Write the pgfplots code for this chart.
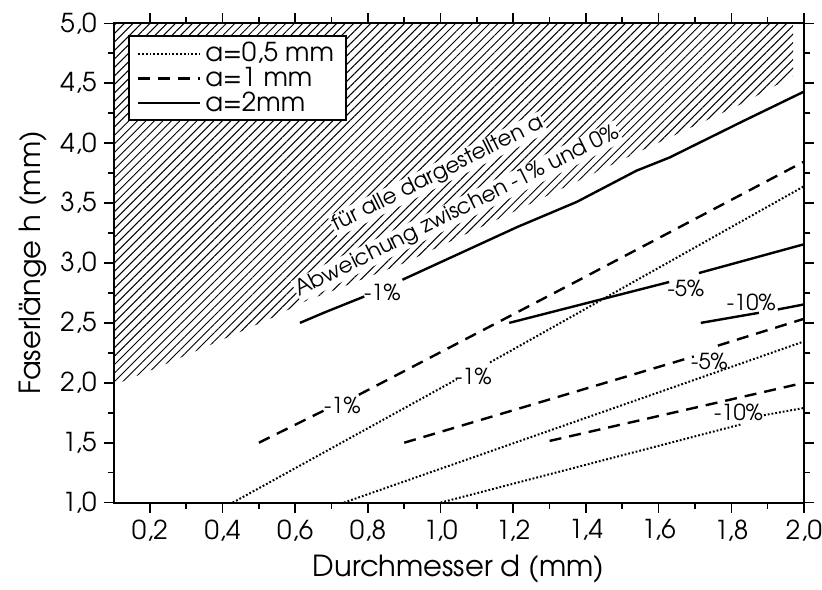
\documentclass[border=0pt]{standalone}
\usepackage{fontspec}
\setmainfont{texgyreadventor-regular.otf}
\usepackage{pgfplots}
\pgfplotsset{compat=1.18}
\usetikzlibrary{patterns.meta}

\begin{document}
\begin{tikzpicture}
\begin{axis}[
    scale only axis,
    width=345pt, height=239.5pt,
    xmin=0.1, xmax=2.0, ymin=1, ymax=5,
    xtick={0.2,0.4,0.6,0.8,1.0,1.2,1.4,1.6,1.8,2.0},
    ytick={1,1.5,2,2.5,3,3.5,4,4.5,5},
    minor x tick num=1, minor y tick num=1,
    tick align=outside,
    major tick length=5pt, minor tick length=3pt,
    every tick/.style={black, line width=0.8pt},
    axis line style={line width=1pt},
    /pgf/number format/.cd, use comma, fixed, fixed zerofill, precision=1, assume math mode=true,
    /pgfplots/.cd,
    ticklabel style={font=\fontsize{13}{15}\selectfont},
    xticklabel style={inner xsep=0pt},
    xlabel={Durchmesser d (mm)},
    ylabel={Faserlänge h (mm)},
    label style={font=\fontsize{14.5}{17}\selectfont},
    legend cell align=left,
    legend style={at={(0.021,0.975)}, anchor=north west, draw=black, line width=1pt,
        fill=white, font=\fontsize{13}{13}\selectfont, row sep=-2.8pt,
        inner xsep=4pt, inner ysep=1pt,
        /tikz/every even column/.append style={column sep=4pt}},
    legend image code/.code={\draw[#1] (0pt,0pt) -- (31pt,0pt);},
]
% schraffierter Bereich
\addplot[draw=none, forget plot, pattern={Lines[angle=45, distance=3pt, line width=0.5pt]}]
    coordinates {(0.1,1.98) (0.215,2.12) (0.387,2.344) (0.533,2.538) (0.624,2.676)
    (0.9,3.0) (1.21,3.44) (1.54,3.92) (1.83,4.33) (1.97,4.56) (1.97,5.0) (0.1,5.0)} -- cycle;

\node[rotate=26.5, fill=white, inner sep=0.6pt, font=\fontsize{10.8}{12}\selectfont]
    at (axis cs:0.993,3.74) {für alle dargestellten a};
\node[rotate=26.5, fill=white, inner sep=0.6pt, font=\fontsize{10.8}{12}\selectfont]
    at (axis cs:1.046,3.43) {Abweichung zwischen -1\% und 0\%};

% Legendeneintraege
\addplot[black, line width=1pt, dash pattern=on 0.9pt off 1pt] coordinates {(0.428,1.0) (1.045,2.03)};
\addlegendentry{a=0,5 mm}
\addplot[black, line width=1.2pt, dash pattern=on 6pt off 4pt] coordinates {(0.5,1.5) (0.69,1.785)};
\addlegendentry{a=1 mm}
\addplot[black, line width=1.2pt] coordinates {(0.613,2.5) (0.683,2.59) (0.79,2.72)};
\addlegendentry{a=2mm}

% a = 0,5 mm
\addplot[black, line width=1pt, dash pattern=on 0.9pt off 1pt, forget plot] coordinates {(1.136,2.17) (2.0,3.64)};
\addplot[black, line width=1pt, dash pattern=on 0.9pt off 1pt, forget plot] coordinates {(0.734,1.0) (2.0,2.345)};
\addplot[black, line width=1pt, dash pattern=on 0.9pt off 1pt, forget plot] coordinates {(1.0,1.0) (1.828,1.654)};
\addplot[black, line width=1pt, dash pattern=on 0.9pt off 1pt, forget plot] coordinates {(1.89,1.73) (2.0,1.79)};

% a = 1 mm
\addplot[black, line width=1.2pt, dash pattern=on 6pt off 4pt, forget plot] coordinates {(0.775,1.9) (1.37,2.84) (2.0,3.846)};
\addplot[black, line width=1.2pt, dash pattern=on 6pt off 4pt, forget plot] coordinates {(0.9,1.5) (1.697,2.22)};
\addplot[black, line width=1.2pt, dash pattern=on 6pt off 4pt, forget plot] coordinates {(1.763,2.31) (2.0,2.534)};
\addplot[black, line width=1.2pt, dash pattern=on 6pt off 4pt, forget plot] coordinates {(1.3,1.515) (2.0,2.0)};

% a = 2 mm
\addplot[black, line width=1.2pt, forget plot] coordinates {(0.895,2.86) (1.211,3.30) (1.375,3.51) (1.539,3.77) (1.63,3.88) (1.83,4.18) (2.0,4.43)};
\addplot[black, line width=1.2pt, forget plot] coordinates {(1.189,2.5) (1.629,2.841)};
\addplot[black, line width=1.2pt, forget plot] coordinates {(1.711,2.916) (2.0,3.156)};
\addplot[black, line width=1.2pt, forget plot] coordinates {(1.716,2.5) (1.876,2.584)};
\addplot[black, line width=1.2pt, forget plot] coordinates {(1.928,2.612) (2.0,2.654)};

% Beschriftung der Linien
\begin{scope}[every node/.style={font=\fontsize{11}{12}\selectfont, inner sep=0pt}]
\node at (axis cs:0.84,2.754) {-1\%};
\node at (axis cs:1.675,2.79) {-5\%};
\node at (axis cs:1.855,2.673) {-10\%};
\node at (axis cs:0.73,1.81) {-1\%};
\node at (axis cs:1.74,2.18) {-5\%};
\node at (axis cs:1.09,2.05) {-1\%};
\node at (axis cs:1.82,1.75) {-10\%};
\end{scope}
\end{axis}
% etwas Rand wie im Original
\path ([xshift=-6pt,yshift=3pt]current bounding box.north west);
\end{tikzpicture}
\end{document}
